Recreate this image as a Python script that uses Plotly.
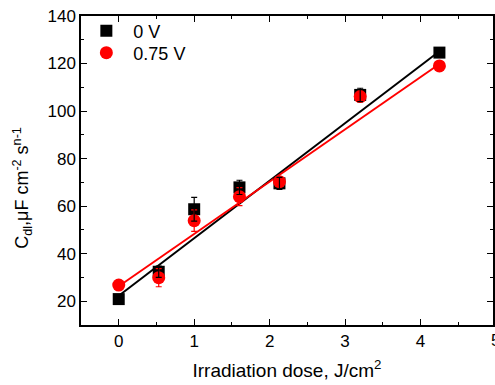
import plotly.graph_objects as go

# ---- data ----
dose = [0.0, 0.53, 1.0, 1.6, 2.13, 3.2, 4.25]
cdl_0V = [20.9, 32.4, 58.7, 67.9, 69.6, 106.8, 124.6]
err_0V = [0.0, 2.4, 5.0, 3.0, 2.5, 2.8, 0.0]
cdl_075V = [26.8, 29.9, 53.9, 64.0, 70.3, 106.1, 119.0]
err_075V = [0.0, 3.8, 4.5, 3.8, 1.5, 1.5, 0.0]

fit_0V = {"intercept": 22.3, "slope": 24.2}
fit_075V = {"intercept": 26.3, "slope": 22.0}
fit_range = [0.0, 4.25]

x_ticks = [0, 1, 2, 3, 4, 5]
y_ticks = [20, 40, 60, 80, 100, 120, 140]
series_names = ["0 V", "0.75 V"]

FONT = "Liberation Sans, Arial, sans-serif"


def line_y(fit, xs):
    return [fit["intercept"] + fit["slope"] * x for x in xs]


fig = go.Figure()

# fitted lines
fig.add_trace(go.Scatter(x=fit_range, y=line_y(fit_0V, fit_range), mode="lines",
                         line=dict(color="black", width=2), showlegend=False, hoverinfo="skip"))
fig.add_trace(go.Scatter(x=fit_range, y=line_y(fit_075V, fit_range), mode="lines",
                         line=dict(color="#ff0000", width=2), showlegend=False, hoverinfo="skip"))

# markers
fig.add_trace(go.Scatter(x=dose, y=cdl_0V, mode="markers", name=series_names[0],
                         legend="legend",
                         marker=dict(symbol="square", size=12, color="black")))
fig.add_trace(go.Scatter(x=dose, y=cdl_075V, mode="markers", name=series_names[1],
                         legend="legend2",
                         marker=dict(symbol="circle", size=13, color="#ff0000"),
                         error_y=dict(type="data", array=err_075V, color="#ff0000",
                                      thickness=1.2, width=3)))
# black error bars drawn on top
fig.add_trace(go.Scatter(x=dose, y=cdl_0V, mode="markers", showlegend=False,
                         marker=dict(size=1, opacity=0), hoverinfo="skip",
                         error_y=dict(type="data", array=err_0V, color="black",
                                      thickness=1.2, width=3)))

axis_common = dict(
    showline=True, linecolor="black", linewidth=1.5, mirror="allticks",
    ticks="inside", ticklen=6, tickwidth=1.3, tickcolor="black",
    showgrid=False, zeroline=False,
    tickfont=dict(family=FONT, size=17, color="black"),
)

fig.update_xaxes(range=[-0.5, 4.96], tickvals=x_ticks, ticktext=[str(t) for t in x_ticks],
                 minor=dict(ticks="inside", ticklen=3, tickwidth=1.3, tickcolor="black",
                            dtick=0.5, tick0=0),
                 title=dict(text="Irradiation dose, J/cm<sup>2</sup>",
                            font=dict(family=FONT, size=19, color="black"), standoff=14),
                 **axis_common)
fig.update_yaxes(range=[10, 140], tickvals=y_ticks, ticktext=[str(t) for t in y_ticks],
                 minor=dict(ticks="inside", ticklen=3, tickwidth=1.3, tickcolor="black",
                            dtick=10, tick0=0),
                 **axis_common)

annotations = [
    dict(text="C<sub>dl</sub>,\u03bcF cm<sup>-2</sup> s<sup>n-1</sup>", textangle=-90,
         xref="paper", yref="paper", x=-0.1425, y=0.445, xanchor="center", yanchor="middle",
         showarrow=False, font=dict(family=FONT, size=18, color="black")),
    dict(text=str(x_ticks[-1]), xref="paper", yref="paper", x=1.005, y=0,
         xanchor="center", yanchor="top", yshift=-4, showarrow=False,
         font=dict(family=FONT, size=17, color="black")),
]

legend_common = dict(xanchor="left", yanchor="middle", bgcolor="rgba(0,0,0,0)",
                     itemwidth=44, font=dict(family=FONT, size=18, color="black"))

fig.update_layout(
    width=495, height=385,
    margin=dict(l=81, r=0, t=16, b=60),
    paper_bgcolor="white", plot_bgcolor="white",
    font=dict(family=FONT, size=16, color="black"),
    legend=dict(x=-0.004, y=1 - (31 - 16) / 309, **legend_common),
    legend2=dict(x=-0.004, y=1 - (53 - 16) / 309, **legend_common),
    annotations=annotations,
)

fig.write_html("out.html", config={"displayModeBar": False},
               post_script="document.body.style.margin='0';document.body.style.overflow='hidden';")
